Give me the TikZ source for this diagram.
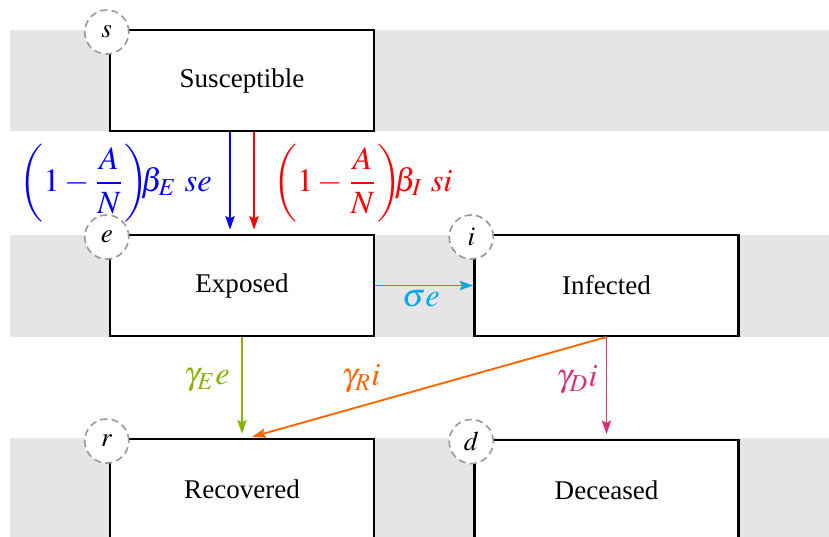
\documentclass[tikz,border=0pt]{standalone}
\usepackage{mathptmx}
\usepackage[no-math]{fontspec}
\setmainfont{Liberation Serif}
\usepackage{amsmath}
\usetikzlibrary{positioning,arrows.meta}
\definecolor{infE}{RGB}{0,0,255}
\definecolor{infI}{RGB}{255,0,0}
\definecolor{incub}{RGB}{0,168,232}
\definecolor{recE}{RGB}{135,180,0}
\definecolor{recI}{RGB}{255,102,0}
\definecolor{death}{RGB}{218,50,120}

\begin{document}
\begin{tikzpicture}[x=0.37pt,y=-0.37pt,
    band/.style={fill=gray!20},
    compartment/.style={draw,line width=0.9pt,fill=white,minimum width=97.7pt,minimum height=37.2pt,inner sep=0pt},
    tag/.style={circle,draw=gray!80,line width=0.6pt,dash pattern=on 2.6pt off 1.6pt,fill=white,minimum size=16.3pt,inner sep=0pt},
    flow/.style={line width=0.7pt,-{Stealth[length=5pt,width=3.4pt,inset=0.8pt]},shorten >=1.6pt},
    rate/.style={font=\large,inner sep=1pt}]
  \clip (0,0) rectangle (829,536);
  % grey bands behind each row
  \fill[band] (10,30) rectangle (829,131);
  \fill[band] (10,235) rectangle (829,337);
  \fill[band] (10,438) rectangle (829,540);
  % compartments
  \node[compartment] (S) at (242,80.5) {Susceptible};
  \node[compartment] (E) at (242,285.5) {Exposed};
  \node[compartment] (I) at (606.5,285.5) {Infected};
  \node[compartment] (R) at (242,489.5) {Recovered};
  \node[compartment] (D) at (606.5,490) {Deceased};
  % state variables
  \node[tag] (s) at ([shift={(-2,3)}]S.north west) {$s$};
  \node[tag] (e) at ([shift={(-2,3)}]E.north west) {$e$};
  \node[tag] (i) at ([shift={(-2,3)}]I.north west) {$i$};
  \node[tag] (r) at ([shift={(-2,3)}]R.north west) {$r$};
  \node[tag] (d) at ([shift={(-2,3)}]D.north west) {$d$};
  % infection
  \draw[flow,infE] ([shift={(-12,0)}]S.south) -- ([shift={(-12,0)}]E.north);
  \draw[flow,infI] ([shift={(12,0)}]S.south) -- ([shift={(12,0)}]E.north);
  \node[rate,infE,anchor=east] (lSE) at (215,183) {$\biggl(1-\dfrac{A}{N}\biggr)\!\!\beta_E\ se$};
  \node[rate,infI,anchor=west] (lSI) at (270,183) {$\biggl(1-\dfrac{A}{N}\biggr)\!\!\beta_I\ si$};
  % incubation
  \draw[flow,incub,shorten >=0pt] (E.east) -- (I.west);
  \node[rate,incub] (lEI) at (421,299) {$\sigma e$};
  % recovery and death
  \draw[flow,recE] (E.south) -- (R.north);
  \draw[flow,recI] (I.south) -- ([shift={(6,0)}]R.north);
  \draw[flow,death] (I.south) -- (D.north);
  \node[rate,recE] (lER) at (207,380) {$\gamma_E e$};
  \node[rate,recI] (lIR) at (361,379) {$\gamma_R i$};
  \node[rate,death] (lID) at (577,380) {$\gamma_D i$};
\end{tikzpicture}
\end{document}
